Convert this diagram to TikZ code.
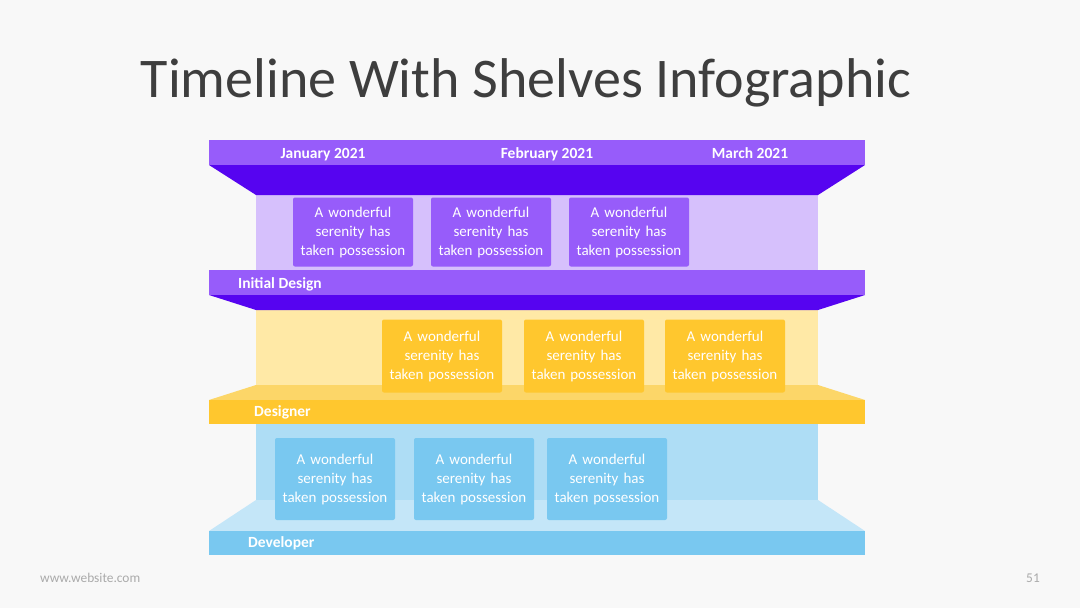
\documentclass[tikz,border=0pt]{standalone}
\usepackage{fontspec}
\setmainfont{Carlito}
\usepackage{xcolor}
\usetikzlibrary{positioning}

\definecolor{bgcol}{RGB}{248,248,248}
\definecolor{titlecol}{RGB}{62,62,62}
\definecolor{footcol}{RGB}{170,170,170}
\definecolor{purband}{RGB}{151,92,250}
\definecolor{purdark}{RGB}{86,4,240}
\definecolor{purback}{RGB}{214,192,252}
\definecolor{yelband}{RGB}{255,199,46}
\definecolor{yelfloor}{RGB}{252,214,104}
\definecolor{yelback}{RGB}{255,233,166}
\definecolor{bluband}{RGB}{121,200,240}
\definecolor{blufloor}{RGB}{196,230,248}
\definecolor{bluback}{RGB}{174,221,245}

\begin{document}
\begin{tikzpicture}[x=1pt,y=-1pt, every node/.style={font=\fontsize{15}{19}\selectfont}]
\tikzstyle{band}=[minimum width=656pt, minimum height=25pt, inner sep=0pt, anchor=north west]
\tikzstyle{bandtext}=[text=white, anchor=base, inner sep=0pt, font=\fontsize{15.5}{18}\selectfont\bfseries]
\tikzstyle{card}=[rounded corners=2pt, text=white, align=center, text width=116pt, minimum width=120pt, inner sep=2pt]
\useasboundingbox[fill=bgcol] (0,0) rectangle (1080,608);

% title and footer
\node[text=titlecol, font=\fontsize{56}{64}\selectfont, anchor=base] (title) at (526,97) {Timeline With Shelves Infographic};
\node[text=footcol, font=\fontsize{13.4}{15}\selectfont, anchor=base west, inner sep=0pt] (site) at (40,582) {www.website.com};
\node[text=footcol, font=\fontsize{13.4}{15}\selectfont, anchor=base east, inner sep=0pt] (page) at (1040,582) {51};

% back panels
\fill[purback] (256,195) rectangle (818,270);
\fill[yelback] (256,310) rectangle (818,400);
\fill[bluback] (256,424) rectangle (818,531);

% top shelf
\node[band, fill=purband] (top) at (209,140) {};
\fill[purdark] (209,165) -- (865,165) -- (818,195) -- (256,195) -- cycle;
\node[bandtext] (jan) at (323,158) {January 2021};
\node[bandtext] (feb) at (547,158) {February 2021};
\node[bandtext] (mar) at (750,158) {March 2021};

% initial design shelf
\node[band, fill=purband] (initial) at (209,270) {};
\fill[purdark] (209,295) -- (865,295) -- (818,310) -- (256,310) -- cycle;
\node[bandtext, anchor=base west] (initiallbl) at (238,288) {Initial Design};

% designer shelf
\fill[yelfloor] (256,385) -- (818,385) -- (865,400) -- (209,400) -- cycle;
\node[band, fill=yelband, minimum height=24pt] (designer) at (209,400) {};
\node[bandtext, anchor=base west] (designerlbl) at (254,416) {Designer};

% developer shelf
\fill[blufloor] (256,500) -- (818,500) -- (865,531) -- (209,531) -- cycle;
\node[band, fill=bluband, minimum height=24pt] (developer) at (209,531) {};
\node[bandtext, anchor=base west] (developerlbl) at (248,547) {Developer};

% cards
\node[card, fill=purband, minimum height=69pt] (p1) at (353,232) {A wonderful\\serenity has\\taken possession};
\node[card, fill=purband, minimum height=69pt] (p2) at (491,232) {A wonderful\\serenity has\\taken possession};
\node[card, fill=purband, minimum height=69pt] (p3) at (629,232) {A wonderful\\serenity has\\taken possession};

\node[card, fill=yelband, minimum height=73pt] (y1) at (442,356) {A wonderful\\serenity has\\taken possession};
\node[card, fill=yelband, minimum height=73pt] (y2) at (584,356) {A wonderful\\serenity has\\taken possession};
\node[card, fill=yelband, minimum height=73pt] (y3) at (725,356) {A wonderful\\serenity has\\taken possession};

\node[card, fill=bluband, minimum height=82pt] (b1) at (335,479) {A wonderful\\serenity has\\taken possession};
\node[card, fill=bluband, minimum height=82pt] (b2) at (474,479) {A wonderful\\serenity has\\taken possession};
\node[card, fill=bluband, minimum height=82pt] (b3) at (607,479) {A wonderful\\serenity has\\taken possession};
\end{tikzpicture}
\end{document}
